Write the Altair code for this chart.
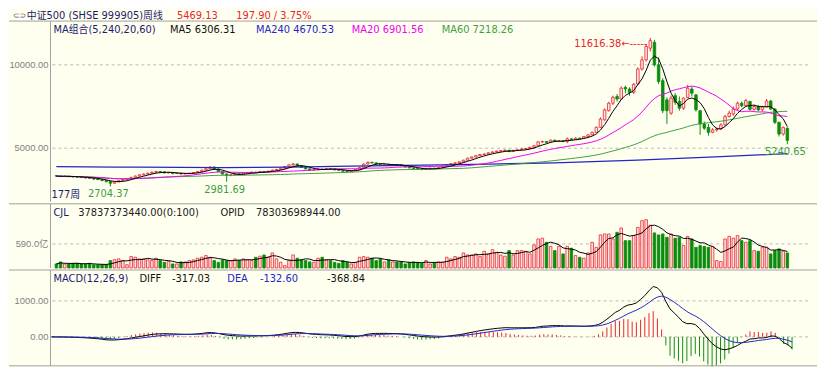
import altair as alt
import pandas as pd

# ---------------- data (weekly candles) ----------------
opens = [3350,3330,3300,3320,3290,3280,3270,3240,3220,3200,
         3150,3120,3060,3000,2900,2980,3050,3120,3180,3250,
         3330,3400,3450,3500,3560,3600,3580,3520,3540,3480,
         3500,3460,3480,3500,3540,3600,3680,3760,3870,3750,
         3600,3450,3380,3400,3470,3430,3500,3520,3560,3540,
         3600,3580,3620,3680,3720,3800,3900,4000,4050,3950,
         3850,3760,3680,3700,3750,3720,3780,3760,3700,3680,
         3620,3600,3650,3720,3850,4050,4150,4120,4050,4000,
         4030,3980,4020,4000,3950,3880,3820,3780,3750,3720,
         3760,3800,3780,3850,3920,4020,4080,4120,4180,4280,
         4400,4470,4550,4620,4650,4720,4770,4820,4850,4880,
         4800,4870,4900,4950,4980,5050,5150,5380,5400,5350,
         5480,5420,5450,5400,5560,5520,5600,5580,5700,5800,
         5950,6250,6700,7250,7700,8100,7950,8650,8550,8350,
         8850,9750,10300,11000,11350,10000,9050,7900,7100,8150,
         7800,7400,8050,8550,8200,7250,6450,6250,5950,6100,
         6150,6400,6900,7050,7350,7700,7550,7800,7330,7500,
         7300,7480,7830,7350,6550,5850,6200]
highs = [3380,3370,3350,3340,3320,3310,3300,3270,3250,3220,
         3180,3140,3080,3030,3000,3080,3150,3200,3280,3360,
         3430,3480,3530,3590,3650,3640,3610,3580,3560,3530,
         3520,3510,3530,3570,3630,3710,3800,3920,3900,3780,
         3630,3500,3440,3500,3490,3530,3560,3600,3590,3640,
         3630,3660,3720,3760,3840,3940,4040,4100,4080,3980,
         3880,3790,3740,3790,3780,3810,3820,3790,3730,3700,
         3650,3680,3750,3880,4090,4200,4190,4150,4080,4070,
         4060,4060,4050,4030,3980,3910,3850,3810,3780,3790,
         3830,3830,3880,3950,4050,4110,4150,4210,4310,4430,
         4500,4580,4650,4690,4760,4810,4860,4890,4920,4910,
         4900,4940,4990,5020,5090,5190,5420,5450,5440,5520,
         5510,5490,5480,5640,5600,5650,5640,5740,5850,5990,
         6300,6850,7380,7780,8150,8250,8700,8750,8650,8900,
         9850,10500,11250,11616.38,11500,10450,9200,8050,8150,8300,
         8100,8050,8800,8700,8250,7300,6600,6450,6200,6250,
         6500,7000,7250,7500,7800,7800,7950,7850,7600,7600,
         7550,7950,7900,7400,6600,6300,6250]
lows = [3290,3270,3280,3260,3250,3230,3210,3190,3160,3110,
        3080,3020,2950,2704.37,2880,2960,3030,3090,3160,3230,
        3310,3370,3420,3470,3530,3540,3480,3490,3440,3450,
        3420,3430,3450,3470,3510,3580,3650,3730,3700,3560,
        3400,2981.69,3320,3380,3390,3410,3470,3500,3500,3520,
        3540,3560,3600,3650,3700,3780,3880,3970,3920,3820,
        3730,3650,3660,3680,3690,3700,3730,3680,3650,3590,
        3570,3580,3630,3700,3830,4020,4080,4010,3960,3980,
        3940,3960,3960,3910,3840,3780,3740,3710,3680,3700,
        3740,3750,3760,3830,3900,4000,4060,4100,4160,4260,
        4380,4450,4530,4590,4630,4700,4750,4790,4820,4760,
        4780,4840,4880,4920,4960,5030,5130,5330,5300,5330,
        5380,5390,5360,5300,5480,5500,5540,5560,5670,5780,
        5930,6230,6650,7200,7600,7800,7900,8300,8150,8250,
        8800,9650,10200,10800,9900,8850,7100,6460,7000,7600,
        7250,7300,8000,8100,7200,5800,6100,5750,5900,6000,
        6100,6350,6850,6950,7300,7450,7500,7250,7250,7200,
        7200,7450,7300,6450,5700,5750,5240.65]
closes = [3330,3300,3320,3290,3280,3270,3240,3220,3200,3150,
          3120,3060,3000,2900,2980,3050,3120,3180,3250,3330,
          3400,3450,3500,3560,3600,3580,3520,3540,3480,3500,
          3460,3480,3500,3540,3600,3680,3760,3870,3750,3600,
          3450,3380,3400,3470,3430,3500,3520,3560,3540,3600,
          3580,3620,3680,3720,3800,3900,4000,4050,3950,3850,
          3760,3680,3700,3750,3720,3780,3760,3700,3680,3620,
          3600,3650,3720,3850,4050,4150,4120,4050,4000,4030,
          3980,4020,4000,3950,3880,3820,3780,3750,3720,3760,
          3800,3780,3850,3920,4020,4080,4120,4180,4280,4400,
          4470,4550,4620,4650,4720,4770,4820,4850,4880,4800,
          4870,4900,4950,4980,5050,5150,5380,5400,5350,5480,
          5420,5450,5400,5560,5520,5600,5580,5700,5800,5950,
          6250,6750,7300,7700,8050,7950,8600,8550,8350,8830,
          9750,10300,11100,11450,10000,9000,7250,7250,8000,7750,
          7400,8000,8600,8300,7300,6450,6200,5950,6100,6150,
          6400,6900,7100,7350,7700,7550,7850,7330,7500,7300,
          7480,7830,7350,6550,5850,6250,5469.13]
# weekly turnover, in 亿
volumes = [100,150,100,100,115,115,100,100,115,80,
           80,80,85,183,205,224,183,80,280,264,
           224,224,200,183,240,183,140,160,100,100,
           150,150,183,200,240,264,305,264,183,140,
           200,183,183,224,183,224,200,183,264,290,
           320,264,370,224,140,60,183,320,240,200,
           183,150,140,240,264,200,183,140,115,183,
           140,100,140,264,280,264,240,183,224,150,
           200,150,
           150,150,100,140,150,140,115,183,100,140,
           150,140,264,224,280,264,370,320,320,346,
           280,410,346,450,386,320,290,427,320,427,
           427,410,346,565,712,730,630,530,427,530,
           346,530,485,305,264,240,370,630,508,810,
           834,834,712,874,980,671,671,793,996,1159,
           1183,1050,860,810,834,752,834,730,752,549,
           775,712,508,549,530,508,530,183,160,712,
           775,730,793,671,630,671,427,410,508,508,
           346,427,468,410,370]
ma240_weeks = [0, 20, 40, 60, 80, 100, 120, 140, 160, 176]
ma240_values = [3900, 3860, 3840, 3880, 3960, 4030, 4120, 4280, 4500, 4670.53]
low_label_weeks = [13, 41, 176]
price_ticks = [5000, 10000]
vol_ticks = [590]
macd_ticks = [0, 1000]

# ---------------- styling ----------------
BG = "#FFFFF0"
RED = "#E8242C"
UPFILL = "#FFE4E4"
GREEN = "#0C8C0C"
LGREEN = "#3E9E3E"
BLUE = "#2525C8"
MAGENTA = "#F000F0"
NAVY = "#1A1A6E"
GRAY = "#A0A0A0"
FONT = "DejaVu Sans, Noto Sans CJK SC, sans-serif"
AXFONT = "Liberation Sans, Noto Sans CJK SC, sans-serif"
W = 768
H1, H2, H3 = 183, 65, 97

# ---------------- table ----------------
n = len(closes)
df = pd.DataFrame({"week": list(range(n)), "open": opens, "high": highs,
                   "low": lows, "close": closes, "vol": volumes})
df["dir"] = ["up" if c >= o else "down" for o, c in zip(opens, closes)]
s = pd.Series(closes, dtype=float)
df["ma5"] = s.rolling(5, min_periods=1).mean()
df["ma20"] = s.rolling(20, min_periods=1).mean()
df["ma60"] = s.rolling(60, min_periods=1).mean()
df["vma5"] = pd.Series(volumes, dtype=float).rolling(5, min_periods=1).mean()
ema12 = s.ewm(span=12, adjust=False).mean()
ema26 = s.ewm(span=26, adjust=False).mean()
df["diff"] = ema12 - ema26
df["dea"] = df["diff"].ewm(span=9, adjust=False).mean()
df["macd"] = 2 * (df["diff"] - df["dea"])
df["zero"] = 0.0
df["msign"] = ["pos" if v >= 0 else "neg" for v in df["macd"]]
ma240_df = pd.DataFrame({"week": ma240_weeks, "ma240": ma240_values})
one = pd.DataFrame({"k": [0]})

xs = alt.Scale(domain=[-0.235, 180.05], nice=False, zero=False)
X = alt.X("week:Q", scale=xs, axis=None)
dir_color = alt.Color("dir:N", scale=alt.Scale(domain=["up", "down"], range=[RED, GREEN]), legend=None)
dir_fill = alt.Fill("dir:N", scale=alt.Scale(domain=["up", "down"], range=[UPFILL, GREEN]), legend=None)
dir_stroke = alt.Stroke("dir:N", scale=alt.Scale(domain=["up", "down"], range=[RED, GREEN]), legend=None)


def Y(field, scale):
    return alt.Y(field, scale=scale, axis=None)


def ticks_layer(values, scale, expr):
    """Dashed grid lines plus right-aligned value labels left of the plot."""
    t = alt.Chart(pd.DataFrame({"v": values}))
    grid = t.mark_rule(color="#B8B8B8", strokeDash=[3, 3], strokeWidth=1).encode(
        y=Y("v:Q", scale), x=alt.value(2), x2=alt.value(W))
    txt = t.transform_calculate(lbl=expr).mark_text(
        align="right", baseline="middle", font=AXFONT, fontSize=9.5, color="#808080").encode(
        y=Y("v:Q", scale), x=alt.value(-2), text="lbl:N")
    return grid + txt


def label(txt, x, y, color, size=10, align="left"):
    return alt.Chart(one).mark_text(text=txt, align=align, baseline="middle", font=FONT,
                                    fontSize=size, color=color).encode(x=alt.value(x), y=alt.value(y))


def sep(y):
    return alt.Chart(one).mark_rule(color=GRAY, strokeWidth=1).encode(
        x=alt.value(-42), x2=alt.value(W + 8), y=alt.value(y))


def vline(h):
    return alt.Chart(one).mark_rule(color=GRAY, strokeWidth=1).encode(
        x=alt.value(0), y=alt.value(0), y2=alt.value(h))


# ---------------- price panel ----------------
ys1 = alt.Scale(domain=[1783, 12625], nice=False, zero=False)
base = alt.Chart(df)
wicks = base.mark_rule(strokeWidth=1).encode(
    x=X, y=Y("low:Q", ys1), y2="high:Q", color=dir_color)
bodies = base.mark_bar(size=2.6, strokeWidth=0.8).encode(
    x=X, y=Y("open:Q", ys1), y2="close:Q", fill=dir_fill, stroke=dir_stroke)
ma5 = base.mark_line(color="black", strokeWidth=1).encode(x=X, y=Y("ma5:Q", ys1))
ma20 = base.mark_line(color=MAGENTA, strokeWidth=1).encode(x=X, y=Y("ma20:Q", ys1))
ma60 = base.mark_line(color=LGREEN, strokeWidth=1).encode(x=X, y=Y("ma60:Q", ys1))
ma240 = alt.Chart(ma240_df).mark_line(color=BLUE, strokeWidth=1.3, interpolate="monotone").encode(
    x=X, y=Y("ma240:Q", ys1))
peak = base.transform_joinaggregate(hmax="max(high)").transform_filter(
    "datum.high == datum.hmax").transform_calculate(
    lbl="format(datum.high, '.2f') + '\u2190-----'").mark_text(
    align="right", baseline="middle", dx=-3, dy=6, color=RED, font=FONT, fontSize=10).encode(
    x=X, y=Y("high:Q", ys1), text="lbl:N")
lowlbl = base.transform_filter(alt.FieldOneOfPredicate(field="week", oneOf=low_label_weeks)).transform_calculate(
    lbl="format(datum.low, '.2f')").mark_text(
    align="center", baseline="top", dx=-2, dy=3, color=LGREEN, font=FONT, fontSize=10).encode(
    x=X, y=Y("low:Q", ys1), text="lbl:N")

p1 = alt.layer(
    ticks_layer(price_ticks, ys1, "format(datum.v, '.2f')"),
    wicks, bodies, ma240, ma60, ma20, ma5, peak, lowlbl,
    label("\u2282\u2283", -38, -5.5, "#505080", size=8),
    label("中证500 (SHSE 999905)周线", -24, -5.5, NAVY),
    label("5469.13", 128, -5.5, RED),
    label("197.90 / 3.75%", 188, -5.5, RED),
    label("MA组合(5,240,20,60)", 3, 9, NAVY),
    label("MA5 6306.31", 121, 9, "#111111"),
    label("MA240 4670.53", 208, 9, BLUE),
    label("MA20 6901.56", 305, 9, MAGENTA),
    label("MA60 7218.26", 396, 9, LGREEN),
    label("177周", 1, 176, NAVY),
    sep(0), vline(H1),
).properties(width=W, height=H1)

# ---------------- volume panel ----------------
ys2 = alt.Scale(domain=[0, 1572], nice=False, zero=False)
vbars = base.mark_bar(size=2.6, strokeWidth=0.8).encode(
    x=X, y=Y("vol:Q", ys2), fill=dir_fill, stroke=dir_stroke)
vma = base.mark_line(color="black", strokeWidth=1).encode(x=X, y=Y("vma5:Q", ys2))
p2 = alt.layer(
    ticks_layer(vol_ticks, ys2, "format(datum.v, '.1f') + '亿'"),
    vbars, vma,
    label("CJL", 3, 9, NAVY),
    label("37837373440.00(0:100)", 28, 9, "#202020"),
    label("OPID", 172, 9, "#202020"),
    label("78303698944.00", 208, 9, "#202020"),
    sep(0), vline(H2),
).properties(width=W, height=H2)

# ---------------- MACD panel ----------------
ys3 = alt.Scale(domain=[-805, 1860], nice=False, zero=False)
hist = base.mark_rule(strokeWidth=1).encode(
    x=X, y=Y("macd:Q", ys3), y2="zero:Q",
    color=alt.Color("msign:N", scale=alt.Scale(domain=["pos", "neg"], range=["#E03A3A", "#3AA03A"]), legend=None))
diff = base.mark_line(color="black", strokeWidth=1).encode(x=X, y=Y("diff:Q", ys3))
dea = base.mark_line(color=BLUE, strokeWidth=1).encode(x=X, y=Y("dea:Q", ys3))
p3 = alt.layer(
    ticks_layer(macd_ticks, ys3, "format(datum.v, '.2f')"),
    hist, diff, dea,
    label("MACD(12,26,9)", 3, 9, NAVY),
    label("DIFF", 90, 9, "#111111"),
    label("-317.03", 123, 9, "#111111"),
    label("DEA", 179, 9, BLUE),
    label("-132.60", 212, 9, BLUE),
    label("-368.84", 280, 9, "#111111"),
    sep(0), sep(H3), vline(H3),
).properties(width=W, height=H3)

chart = alt.vconcat(p1, p2, p3, spacing=0).properties(
    background=BG, padding={"left": 0, "top": 0, "right": 0, "bottom": 0}
).configure_view(stroke=None)

chart.save("out.html", embed_options={"renderer": "svg", "actions": False})
